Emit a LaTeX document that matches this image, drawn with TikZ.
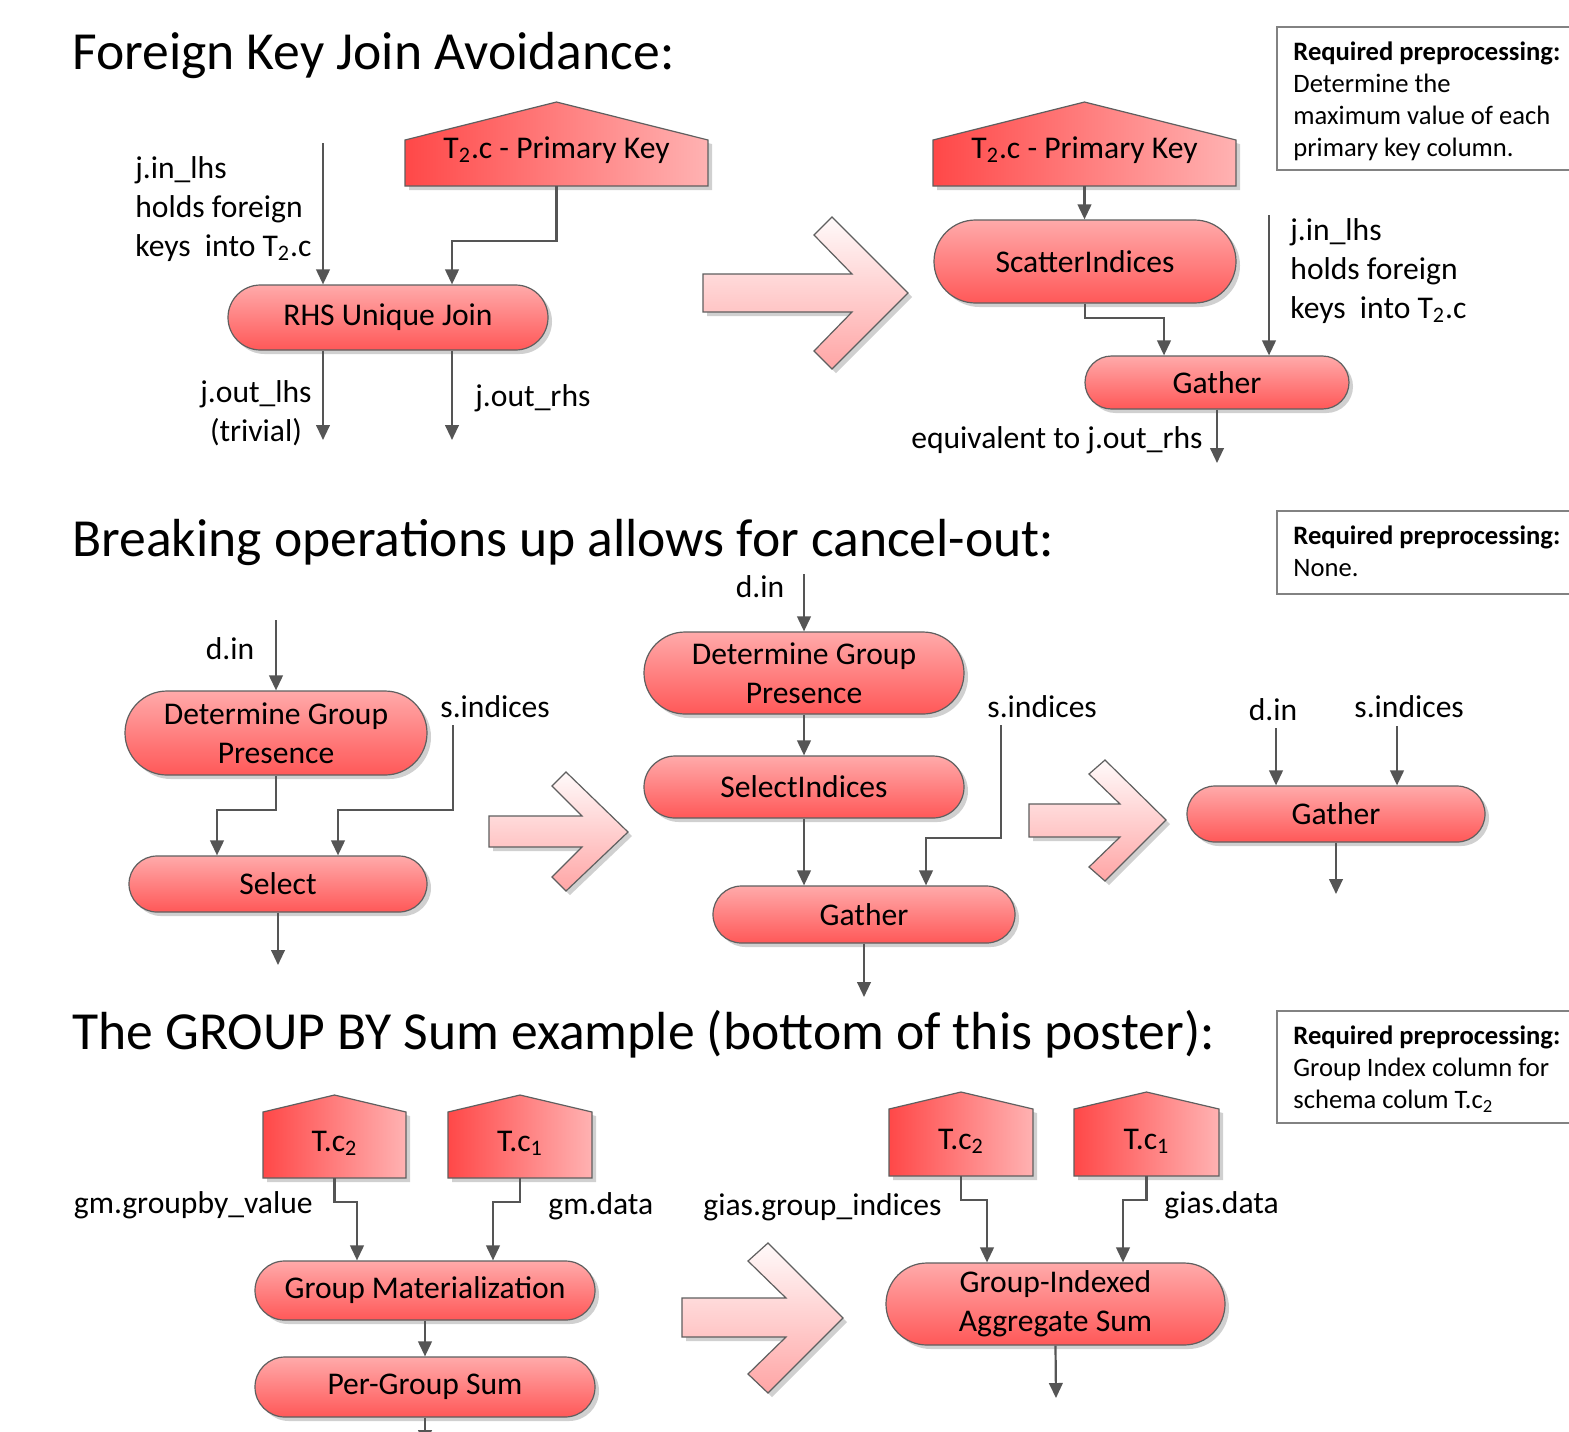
\documentclass[tikz,border=0pt]{standalone}
\usepackage{fontspec}
\setmainfont{Carlito}
\usetikzlibrary{shapes.misc,shadows,arrows.meta}

\definecolor{pillTop}{RGB}{255,170,170}
\definecolor{pillBot}{RGB}{255,88,88}
\definecolor{houseL}{RGB}{255,72,72}
\definecolor{houseR}{RGB}{255,178,178}
\definecolor{bigTop}{RGB}{255,250,250}
\definecolor{bigBot}{RGB}{255,165,165}
\definecolor{edgeG}{RGB}{95,95,95}
\definecolor{connG}{RGB}{85,85,85}
\definecolor{shadeG}{RGB}{208,208,208}
\definecolor{boxG}{RGB}{130,130,130}

\newcommand\bodyfont{\fontsize{15.8pt}{19.3pt}\selectfont}
\newcommand\titlefont{\fontsize{26.8pt}{32pt}\selectfont}
\newcommand\notefont{\fontsize{13.3pt}{16pt}\selectfont}

\tikzset{
  softshadow/.style={general shadow={shadow xshift=2pt, shadow yshift=-2pt, fill=shadeG}},
  pill/.style={rounded rectangle, draw=edgeG, line width=0.6pt,
    top color=pillTop, bottom color=pillBot, inner sep=0pt,
    font=\bodyfont, align=center, softshadow},
  house/.style={draw=edgeG, line width=0.6pt, left color=houseL, right color=houseR, softshadow},
  bigarrow/.style={draw=edgeG, line width=0.6pt, top color=bigTop, bottom color=bigBot, softshadow},
  conn/.style={draw=connG, line width=1.1pt, -{Triangle[width=6.8pt,length=7.5pt]}},
  lbl/.style={font=\bodyfont, inner sep=0pt},
  ttl/.style={font=\titlefont, inner sep=0pt, anchor=base west},
  note/.style={font=\notefont, inner sep=0pt, anchor=base west, align=left},
  notebox/.style={draw=boxG, line width=0.6pt},
}

\begin{document}
\begin{tikzpicture}[x=0.5pt, y=-0.5pt]
\useasboundingbox (0,0) rectangle (1569,1431);
\fill[white] (0,0) rectangle (1569,1431);
\clip (0,0) rectangle (1569,1431);

% ---------- titles ----------
\node[ttl] (t1) at (72,69) {Foreign Key Join Avoidance:};
\node[ttl] (t2) at (72,556) {Breaking operations up allows for cancel-out:};
\node[ttl] (t3) at (72,1049) {The GROUP BY Sum example (bottom of this poster):};

% ---------- preprocessing notes (anchored at the last baseline) ----------
\draw[notebox] (1277,27) rectangle (1600,170);
\node[note] (pre1) at (1293,156) {\textbf{Required preprocessing:}\\Determine the\\maximum value of each\\primary key column.};
\draw[notebox] (1277,511) rectangle (1600,594);
\node[note] (pre2) at (1293,576) {\textbf{Required preprocessing:}\\None.};
\draw[notebox] (1277,1011) rectangle (1600,1123);
\node[note] (pre3) at (1293,1108) {\textbf{Required preprocessing:}\\Group Index column for\\schema colum T.c\textsubscript{2}};

% ---------- big transition arrows ----------
\path[bigarrow] (703,274) -- (852,274) -- (814,235) -- (832,217) -- (908,293) -- (832,369) -- (814,351) -- (852,312) -- (703,312) -- cycle;
\path[bigarrow] (489,816) -- (582,816) -- (552,786) -- (566,772) -- (628,832) -- (566,891) -- (552,877) -- (582,847) -- (489,847) -- cycle;
\path[bigarrow] (1029,804) -- (1120,804) -- (1089,774) -- (1105,760) -- (1166,820) -- (1105,881) -- (1089,867) -- (1120,837) -- (1029,837) -- cycle;
\path[bigarrow] (682,1298) -- (786,1298) -- (748,1261) -- (768,1243) -- (843,1318) -- (768,1393) -- (748,1374) -- (786,1337) -- (682,1337) -- cycle;

% ---------- table columns (house shapes) ----------
\path[house] (405,186) -- (405,140) -- (556.5,102) -- (708,140) -- (708,186) -- cycle;
\node[lbl, anchor=base] (h1) at (556.5,158) {T\textsubscript{2}.c - Primary Key};
\coordinate (h1b) at (556.5,186);

\path[house] (933,186) -- (933,140) -- (1084.5,102) -- (1236,140) -- (1236,186) -- cycle;
\node[lbl, anchor=base] (h2) at (1084.5,158) {T\textsubscript{2}.c - Primary Key};
\coordinate (h2b) at (1084.5,186);

\path[house] (263,1178) -- (263,1112) -- (334.5,1095) -- (406,1112) -- (406,1178) -- cycle;
\node[lbl, anchor=base] (hc2a) at (334.5,1151) {T.c\textsubscript{2}};
\coordinate (hc2ab) at (334.5,1178);

\path[house] (448,1178) -- (448,1112) -- (520,1095) -- (592,1112) -- (592,1178) -- cycle;
\node[lbl, anchor=base] (hc1a) at (520,1151) {T.c\textsubscript{1}};
\coordinate (hc1ab) at (520,1178);

\path[house] (889,1176) -- (889,1109) -- (961,1092) -- (1033,1109) -- (1033,1176) -- cycle;
\node[lbl, anchor=base] (hc2b) at (961,1149) {T.c\textsubscript{2}};
\coordinate (hc2bb) at (961,1176);

\path[house] (1074,1176) -- (1074,1109) -- (1146.5,1092) -- (1219,1109) -- (1219,1176) -- cycle;
\node[lbl, anchor=base] (hc1b) at (1146.5,1149) {T.c\textsubscript{1}};
\coordinate (hc1bb) at (1146.5,1176);

% ---------- operators ----------
\node[pill, minimum width=160pt, minimum height=32.5pt] (rhs) at (388,317.5) {RHS Unique Join};
\node[pill, minimum width=151pt, minimum height=41.5pt] (scat) at (1085,261.5) {ScatterIndices};
\node[pill, minimum width=132pt, minimum height=26.5pt] (g1) at (1217,382.5) {Gather};

\node[pill, minimum width=151pt, minimum height=42pt] (dgp1) at (276,733) {Determine Group\\Presence};
\node[pill, minimum width=149pt, minimum height=28pt] (sel) at (278,884) {Select};
\node[pill, minimum width=160pt, minimum height=41pt] (dgp2) at (804,673) {Determine Group\\Presence};
\node[pill, minimum width=160pt, minimum height=31pt] (si) at (804,787) {SelectIndices};
\node[pill, minimum width=151pt, minimum height=28.5pt] (g2) at (864,914.5) {Gather};
\node[pill, minimum width=149pt, minimum height=28pt] (g3) at (1336,814) {Gather};

\node[pill, minimum width=170pt, minimum height=29.5pt] (gm) at (425,1290.5) {Group Materialization};
\node[pill, minimum width=170pt, minimum height=30pt] (pgs) at (425,1387) {Per-Group Sum};
\node[pill, minimum width=169.5pt, minimum height=41pt] (gias) at (1055.5,1304) {Group-Indexed\\Aggregate Sum};

% ---------- labels (multi-line ones anchored at the last baseline) ----------
\node[lbl, anchor=base west, align=left] (lin1) at (135,256) {j.in\_lhs\\holds foreign\\keys\ \ into T\textsubscript{2}.c};
\node[lbl, anchor=base, align=center] (olhs) at (256,441) {j.out\_lhs\\(trivial)};
\node[lbl, anchor=base west] (orhs) at (475,406) {j.out\_rhs};
\node[lbl, anchor=base west, align=left] (lin2) at (1290,318) {j.in\_lhs\\holds foreign\\keys\ \ into T\textsubscript{2}.c};
\node[lbl, anchor=base east] (eq) at (1203,448) {equivalent to j.out\_rhs};

\node[lbl, anchor=base] (din1) at (230,659) {d.in};
\node[lbl, anchor=base west] (sin1) at (440,717) {s.indices};
\node[lbl, anchor=base] (din2) at (760,597) {d.in};
\node[lbl, anchor=base west] (sin2) at (987,717) {s.indices};
\node[lbl, anchor=base] (din3) at (1273,720) {d.in};
\node[lbl, anchor=base west] (sin3) at (1354,717) {s.indices};

\node[lbl, anchor=base east] (gbv) at (313,1213) {gm.groupby\_value};
\node[lbl, anchor=base west] (gmd) at (548,1214) {gm.data};
\node[lbl, anchor=base west] (gig) at (703,1215) {gias.group\_indices};
\node[lbl, anchor=base west] (gid) at (1164,1213) {gias.data};

% ---------- free ends of connectors ----------
\coordinate (a1) at (323,143);
\coordinate (o1) at (323,440);
\coordinate (o2) at (452,440);
\coordinate (a2) at (1269,215);
\coordinate (o3) at (1217,463);
\coordinate (a3) at (276,620);
\coordinate (a4) at (453,725);
\coordinate (o4) at (278,965);
\coordinate (a5) at (804,574);
\coordinate (a6) at (1001,725);
\coordinate (o5) at (864,997);
\coordinate (a7) at (1276,728);
\coordinate (a8) at (1397,726);
\coordinate (o6) at (1336,894);
\coordinate (o7) at (425,1445);
\coordinate (o8) at (1056,1398);

% ---------- connectors ----------
% foreign key join
\draw[conn] (a1) -- (a1 |- rhs.north);
\draw[conn] (h1b) |- (452,241) -- (452,0 |- rhs.north);
\draw[conn] (o1 |- rhs.south) -- (o1);
\draw[conn] (o2 |- rhs.south) -- (o2);
\draw[conn] (h2b) -- (h2b |- scat.north);
\draw[conn] (scat.south) |- (1164,318) -- (1164,0 |- g1.north);
\draw[conn] (a2) -- (a2 |- g1.north);
\draw[conn] (g1.south) -- (o3);
% cancel-out
\draw[conn] (a3) -- (a3 |- dgp1.north);
\draw[conn] (dgp1.south) |- (217,810) -- (217,0 |- sel.north);
\draw[conn] (a4) |- (338,810) -- (338,0 |- sel.north);
\draw[conn] (o4 |- sel.south) -- (o4);
\draw[conn] (a5) -- (a5 |- dgp2.north);
\draw[conn] (dgp2.south) -- (si.north);
\draw[conn] (si.south) -- (si.south |- g2.north);
\draw[conn] (a6) |- (926,838) -- (926,0 |- g2.north);
\draw[conn] (g2.south) -- (o5);
\draw[conn] (a7) -- (a7 |- g3.north);
\draw[conn] (a8) -- (a8 |- g3.north);
\draw[conn] (g3.south) -- (o6);
% group by sum
\draw[conn] (hc2ab) |- (357,1202) -- (357,0 |- gm.north);
\draw[conn] (hc1ab) |- (493,1202) -- (493,0 |- gm.north);
\draw[conn] (gm.south) -- (pgs.north);
\draw[conn] (pgs.south) -- (o7);
\draw[conn] (hc2bb) |- (987,1200) -- (987,0 |- gias.north);
\draw[conn] (hc1bb) |- (1123,1200) -- (1123,0 |- gias.north);
\draw[conn] (gias.south) -- (o8);
\end{tikzpicture}
\end{document}
